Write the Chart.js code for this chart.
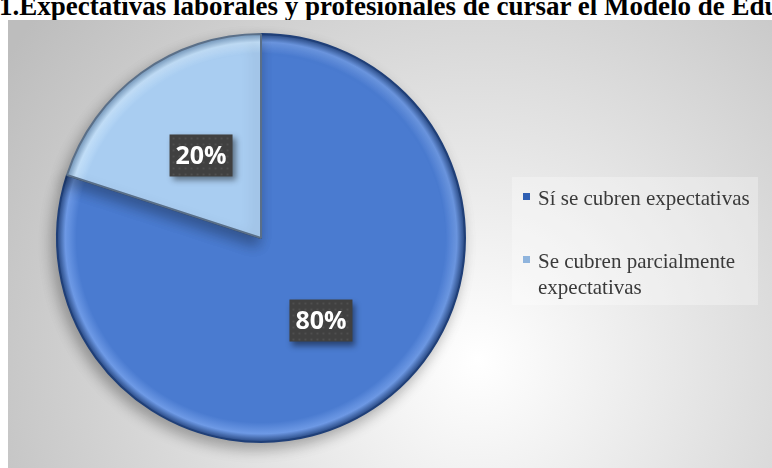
<!DOCTYPE html>
<html>
<head>
<meta charset="utf-8">
<script src="https://cdn.jsdelivr.net/npm/chart.js@4"></script>
<style>
  html, body { margin: 0; padding: 0; background: #fff; }
  body { width: 772px; height: 468px; position: relative; overflow: hidden; }
  #title {
    position: absolute; left: -1px; top: -9px; white-space: nowrap; line-height: 26px;
    font: bold 27px 'Liberation Serif', 'Times New Roman', serif; color: #000;
  }
  #frame { position: absolute; left: 8px; top: 20px; width: 764px; height: 448px; }
  #legend {
    position: absolute; left: 512px; top: 177px; width: 246px; height: 128px;
    background: rgba(255,255,255,0.3);
    font: 21px 'Liberation Serif', 'Times New Roman', serif; color: #3a3a3a;
  }
  .item { position: absolute; left: 11px; padding-left: 15px; line-height: 26px; }
  .item i { position: absolute; left: 0; top: 8px; width: 7px; height: 7px; }
</style>
</head>
<body>
<div id="title">1.Expectativas laborales y profesionales de cursar el Modelo de Educación</div>
<div id="frame"><canvas id="pieChart" width="764" height="448"></canvas></div>
<div id="legend"></div>
<script>
// Chart values
const categories = ['Sí se cubren expectativas', 'Se cubren parcialmente expectativas'];
const percentages = [80, 20];
const sliceColors = ['#4a7bd0', '#a9cdf1'];
const rimLight = ['#6e9ae6', '#c4e1fb'];
const rimDark = ['#1f3f78', '#6b8fb5'];
const markerColors = ['#2f5fb3', '#8fb4dd'];

// Radial shading so each slice gets a bevelled rim
function sliceFill(context) {
  const i = context.dataIndex;
  const area = context.chart.chartArea;
  if (!area) return sliceColors[i];
  const cx = (area.left + area.right) / 2;
  const cy = (area.top + area.bottom) / 2;
  const r = Math.min(area.width, area.height) / 2;
  const g = context.chart.ctx.createRadialGradient(cx, cy, 0, cx, cy, r);
  g.addColorStop(0, sliceColors[i]);
  g.addColorStop(0.9, sliceColors[i]);
  g.addColorStop(0.955, rimLight[i]);
  g.addColorStop(1, rimDark[i]);
  return g;
}

// Grey radial backdrop behind the pie
const backdrop = {
  id: 'backdrop',
  beforeDraw(chart) {
    const ctx = chart.ctx;
    const g = ctx.createRadialGradient(470, 340, 0, 470, 340, 560);
    g.addColorStop(0, '#ffffff');
    g.addColorStop(1, '#bdbdbd');
    ctx.save();
    ctx.fillStyle = g;
    ctx.fillRect(0, 0, chart.width, chart.height);
    ctx.restore();
  },
  beforeDatasetsDraw(chart) {
    const ctx = chart.ctx;
    ctx.save();
    ctx.shadowColor = 'rgba(0,0,0,0.3)';
    ctx.shadowBlur = 14;
    ctx.shadowOffsetX = -4;
    ctx.shadowOffsetY = 6;
  },
  afterDatasetsDraw(chart) {
    chart.ctx.restore();
  }
};

// Dark percentage boxes at each slice midpoint
const sliceLabels = {
  id: 'sliceLabels',
  afterDatasetsDraw(chart) {
    const ctx = chart.ctx;
    const meta = chart.getDatasetMeta(0);
    ctx.save();
    ctx.font = 'bold 25px "Open Sans", "Noto Sans", sans-serif';
    ctx.textAlign = 'center';
    ctx.textBaseline = 'middle';
    meta.data.forEach((arc, i) => {
      const pos = arc.tooltipPosition();
      const text = percentages[i] + '%';
      const w = 63, h = 42;
      ctx.shadowColor = 'rgba(0,0,0,0.45)';
      ctx.shadowBlur = 6;
      ctx.shadowOffsetX = 3;
      ctx.shadowOffsetY = 4;
      ctx.fillStyle = '#404040';
      ctx.fillRect(pos.x - w / 2, pos.y - h / 2, w, h);
      ctx.shadowColor = 'transparent';
      ctx.fillStyle = 'rgba(255,255,255,0.08)';
      for (let x = pos.x - w / 2 + 3; x < pos.x + w / 2; x += 6) {
        for (let y = pos.y - h / 2 + 3; y < pos.y + h / 2; y += 6) {
          ctx.fillRect(x, y, 2, 2);
        }
      }
      ctx.fillStyle = '#ffffff';
      ctx.fillText(text, pos.x, pos.y + 1);
    });
    ctx.restore();
  }
};

const ctx = document.getElementById('pieChart').getContext('2d');
const pieChart = new Chart(ctx, {
  type: 'pie',
  data: {
    labels: categories,
    datasets: [{
      data: percentages,
      backgroundColor: sliceFill,
      borderColor: ['#1f3f78', '#5a6f88'],
      borderWidth: 2,
      hoverOffset: 0
    }]
  },
  options: {
    responsive: false,
    animation: false,
    layout: { padding: { left: 48, right: 306, top: 13, bottom: 25 } },
    plugins: {
      legend: { display: false },
      tooltip: { enabled: false }
    }
  },
  plugins: [backdrop, sliceLabels]
});

// HTML legend built from the same arrays
const legendEl = document.getElementById('legend');
const itemTops = [8, 71];
legendEl.innerHTML = categories.map((label, i) => {
  const text = i === 1 ? 'Se cubren parcialmente<br>expectativas' : label;
  return `<div class="item" style="top:${itemTops[i]}px"><i style="background:${markerColors[i]}"></i>${text}</div>`;
}).join('');
</script>
</body>
</html>
